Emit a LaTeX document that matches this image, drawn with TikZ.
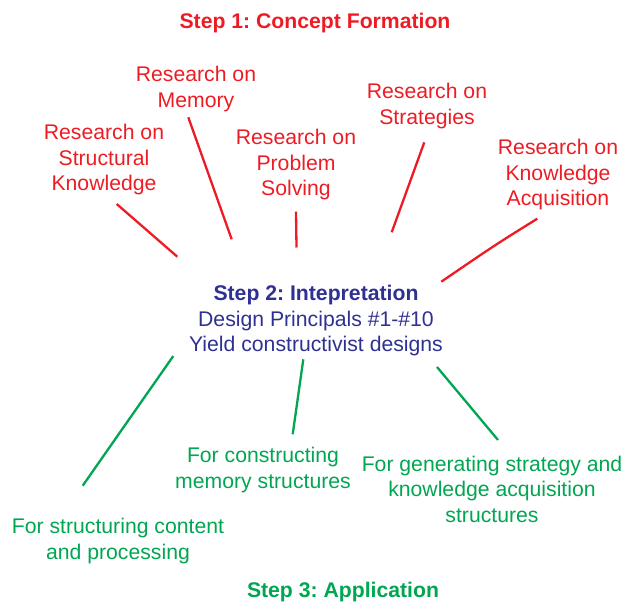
\documentclass[tikz,border=0pt]{standalone}
\usepackage{fontspec}
\setmainfont{Liberation Sans}
\frenchspacing
\definecolor{stepred}{HTML}{ED1C24}
\definecolor{stepblue}{HTML}{2E3192}
\definecolor{stepgreen}{HTML}{00A651}
\begin{document}
\begin{tikzpicture}[x=1pt,y=-1pt,
  lbl/.style={align=center, inner sep=0pt, font=\fontsize{21.2}{25.5}\selectfont},
  redlbl/.style={lbl, text=stepred},
  bluelbl/.style={lbl, text=stepblue},
  greenlbl/.style={lbl, text=stepgreen},
  headlbl/.style={font=\fontsize{21.2}{25.5}\selectfont\bfseries},
  redlink/.style={draw=stepred, line width=2.3pt},
  greenlink/.style={draw=stepgreen, line width=2.3pt}]
\useasboundingbox (0,0) rectangle (623,602);

% Step 1: research areas
\node[redlbl, headlbl] (title) at (315,23) {Step 1: Concept Formation};
\node[redlbl] (mem)    at (196,89)  {Research on\\Memory};
\node[redlbl] (struct) at (104,160) {Research on\\Structural\\Knowledge};
\node[redlbl] (prob)   at (296,165) {Research on\\Problem\\Solving};
\node[redlbl] (strat)  at (427,106) {Research on\\Strategies};
\node[redlbl] (ka)     at (558,175) {Research on\\Knowledge\\Acquisition};

% Step 2: interpretation
\node[bluelbl] (interp) at (316,321)
  {\textbf{Step 2: Intepretation}\\Design Principals \#1-\#10\\Yield constructivist designs};

% Step 3: applications
\node[greenlbl] (consmem)    at (263,470) {For constructing\\memory structures};
\node[greenlbl] (genstrat)   at (492,489) {For generating strategy and\\knowledge acquisition\\structures};
\node[greenlbl] (structcont) at (118,541) {For structuring content\\and processing};
\node[greenlbl, headlbl] (apply) at (343,592) {Step 3: Application};

% connector end points
\coordinate (struct-s) at (116.7,204);  \coordinate (struct-e) at (177.3,256.7);
\coordinate (mem-s)    at (188.3,117.3); \coordinate (mem-e)    at (231.7,239.3);
\coordinate (prob-s)   at (296,211.7);  \coordinate (prob-e)   at (296.5,247.5);
\coordinate (strat-s)  at (424.3,142.3); \coordinate (strat-e)  at (391.7,232.3);
\coordinate (ka-s)     at (537.3,218.7); \coordinate (ka-e)     at (441.3,281.7);
\coordinate (sc-s)     at (173.3,356);  \coordinate (sc-e)     at (82.7,485.7);
\coordinate (cm-s)     at (303.3,359.3); \coordinate (cm-e)     at (292.7,434.3);
\coordinate (gs-s)     at (437,367);    \coordinate (gs-e)     at (498,440);

\draw[redlink] (struct-s) -- (struct-e);
\draw[redlink] (mem-s) -- (mem-e);
\draw[redlink] (prob-s) -- (prob-e);
\draw[redlink] (strat-s) -- (strat-e);
\draw[redlink] (ka-s) .. controls (495,245) .. (ka-e);
\draw[greenlink] (sc-s) -- (sc-e);
\draw[greenlink] (cm-s) -- (cm-e);
\draw[greenlink] (gs-s) -- (gs-e);
\end{tikzpicture}
\end{document}
